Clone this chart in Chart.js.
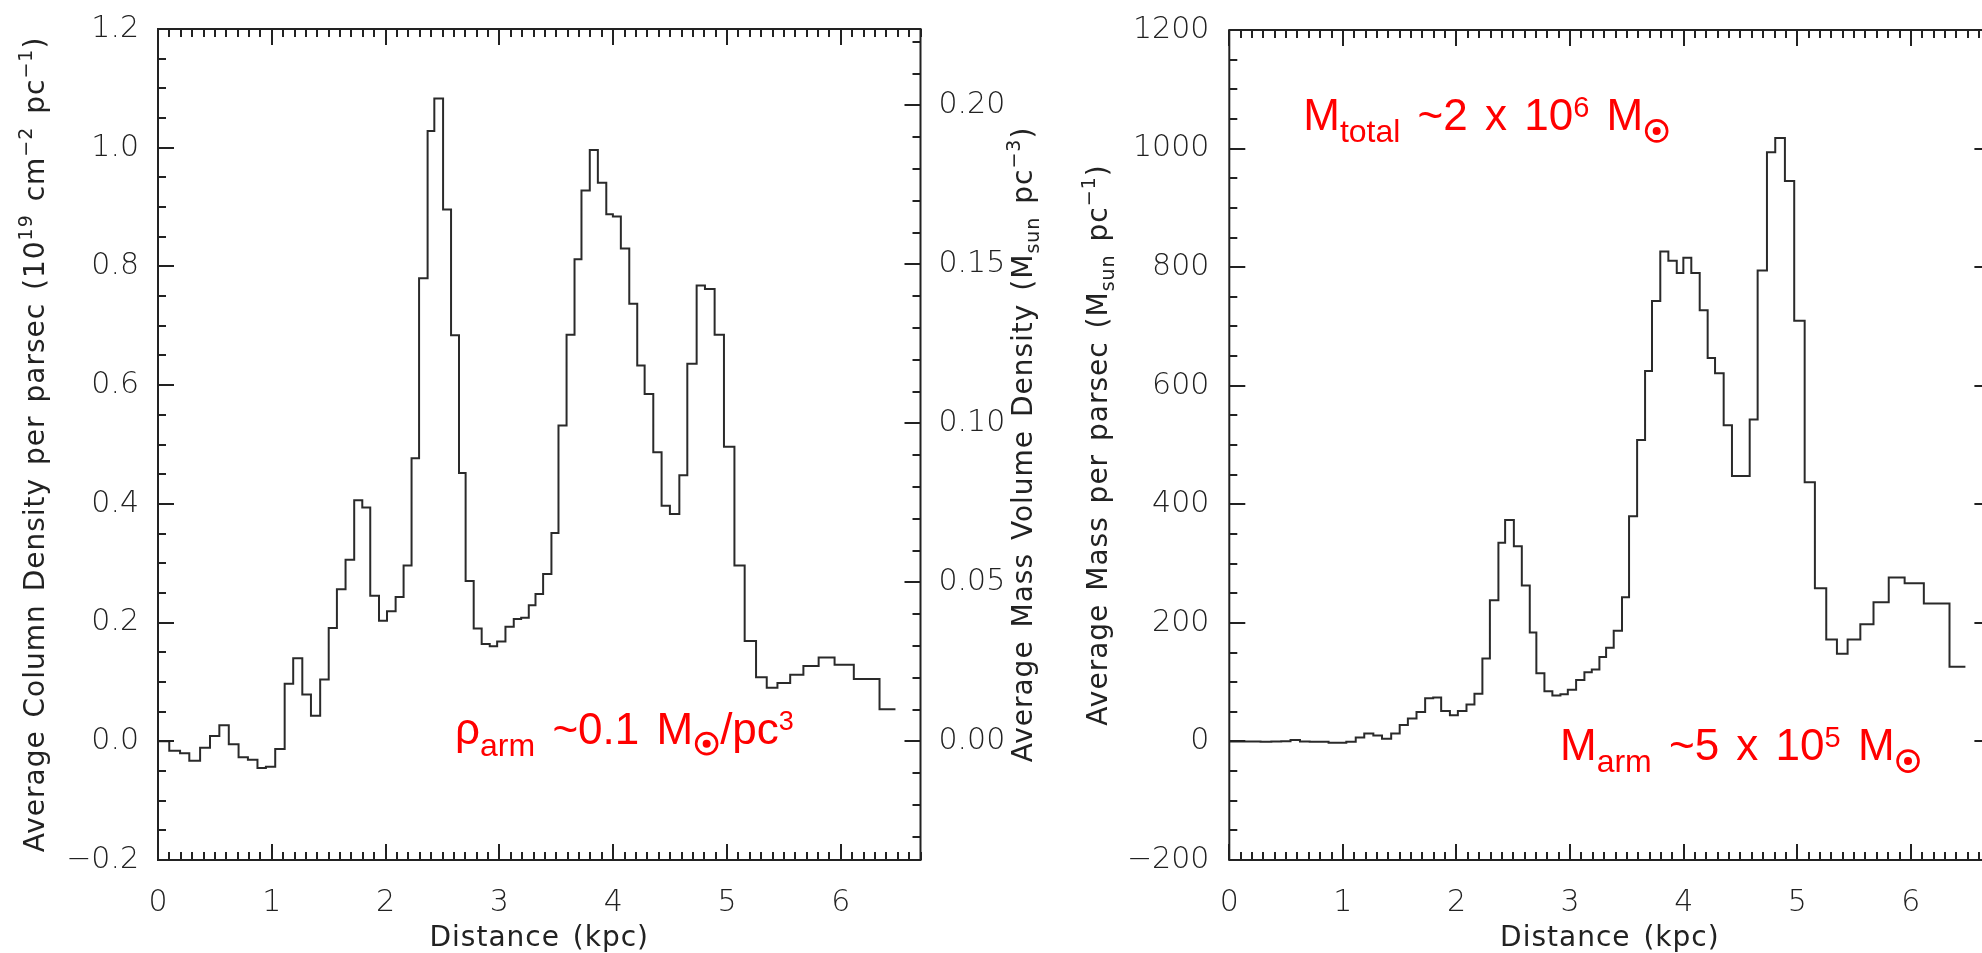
<!DOCTYPE html>
<html>
<head>
<meta charset="utf-8">
<title>Arm profiles</title>
<script src="https://cdn.jsdelivr.net/npm/chart.js@4.4.1/dist/chart.umd.min.js"></script>
<style>
  html, body { margin: 0; padding: 0; background: #fff; overflow: hidden; }
  body { width: 1982px; height: 953px; position: relative; }
  canvas { position: absolute; top: 0; }
  #leftChart { left: 0; }
  #rightChart { left: 1080px; }
</style>
</head>
<body>
<canvas id="leftChart" width="1080" height="953"></canvas>
<canvas id="rightChart" width="920" height="953"></canvas>
<script>
// distance bins (kpc), shared by both profiles
const binEdges = [
    0, 0.099, 0.194, 0.275, 0.370, 0.457, 0.539, 0.622, 0.708, 0.790,
    0.874, 0.948, 1.030, 1.113, 1.188, 1.268, 1.344, 1.425, 1.500, 1.572,
    1.648, 1.724, 1.795, 1.865, 1.942, 2.012, 2.088, 2.158, 2.228, 2.294,
    2.369, 2.428, 2.505, 2.575, 2.645, 2.703, 2.774, 2.844, 2.915, 2.980,
    3.053, 3.126, 3.191, 3.258, 3.317, 3.384, 3.457, 3.519, 3.590, 3.660,
    3.721, 3.794, 3.865, 3.939, 3.997, 4.067, 4.141, 4.211, 4.276, 4.352,
    4.425, 4.498, 4.581, 4.651, 4.733, 4.806, 4.891, 4.973, 5.065, 5.155,
    5.255, 5.349, 5.443, 5.555, 5.671, 5.805, 5.945, 6.114, 6.340, 6.480
];

// average column density per parsec (1e19 cm^-2 pc^-1), one value per bin
const columnDensity = [
    0.000, -0.016, -0.020, -0.033, -0.011, 0.009, 0.027, -0.005, -0.027, -0.031,
    -0.045, -0.043, -0.013, 0.097, 0.140, 0.079, 0.043, 0.104, 0.191, 0.256,
    0.306, 0.406, 0.394, 0.245, 0.203, 0.219, 0.243, 0.296, 0.477, 0.780,
    1.028, 1.083, 0.896, 0.684, 0.452, 0.270, 0.190, 0.164, 0.160, 0.168,
    0.193, 0.206, 0.208, 0.229, 0.248, 0.282, 0.351, 0.532, 0.685, 0.812,
    0.928, 0.996, 0.941, 0.888, 0.884, 0.830, 0.737, 0.633, 0.585, 0.487,
    0.397, 0.383, 0.448, 0.636, 0.768, 0.762, 0.685, 0.496, 0.296, 0.169,
    0.108, 0.090, 0.098, 0.112, 0.127, 0.141, 0.129, 0.105, 0.054
];

// average mass per parsec (Msun pc^-1), one value per bin
const massPerParsec = [
    0, -0.3, -0.3, -0.5, -0.3, 0.3, 2.2, -0.2, -0.5, -0.7,
    -2.2, -2.2, -0.5, 6.6, 13.3, 10.0, 4.4, 13.3, 27.6, 38.7,
    49.7, 72.9, 74.0, 51.4, 44.2, 51.4, 62.4, 80.6, 139.7, 238.0,
    335.0, 373.4, 329.2, 262.9, 183.9, 114.9, 84.5, 77.3, 79.5, 87.3,
    103.8, 116.5, 121.5, 142.5, 158.0, 186.7, 243.0, 380.0, 508.6, 625.0,
    742.8, 826.3, 810.8, 790.3, 815.7, 790.3, 727.3, 646.7, 621.2, 533.4,
    447.8, 447.8, 542.9, 794.2, 993.6, 1017.9, 945.4, 709.6, 437.0, 258.5,
    171.8, 148.0, 171.8, 197.7, 234.7, 276.7, 266.8, 232.5, 126.0
];

const distanceTicks = [0, 1, 2, 3, 4, 5, 6];
const distanceLabels = ['0', '1', '2', '3', '4', '5', '6'];
const densityTicks = [-0.2, 0, 0.2, 0.4, 0.6, 0.8, 1.0, 1.2];
const densityLabels = ['\u22120.2', '0.0', '0.2', '0.4', '0.6', '0.8', '1.0', '1.2'];
const volumeTicks = [0, 0.05, 0.10, 0.15, 0.20];
const volumeLabels = ['0.00', '0.05', '0.10', '0.15', '0.20'];
const massTicks = [-200, 0, 200, 400, 600, 800, 1000, 1200];
const massLabels = ['\u2212200', '0', '200', '400', '600', '800', '1000', '1200'];

const AXIS_FONT = 'DejaVu Sans';
const NOTE_FONT = 'Liberation Sans, Arial, sans-serif';
const INK = '#222';

function stepPoints(values) {
    const pts = values.map((v, i) => ({ x: binEdges[i], y: v }));
    pts.push({ x: binEdges[values.length], y: values[values.length - 1] });
    return pts;
}

function fixedTicks(values) {
    return scale => { scale.ticks = values.map(v => ({ value: v })); };
}

// box + inward major/minor ticks, IDL style
const framePlugin = {
    id: 'idlFrame',
    afterDatasetsDraw(chart, args, opts) {
        const ctx = chart.ctx, a = chart.chartArea;
        ctx.save();
        ctx.strokeStyle = INK;
        ctx.lineWidth = 2;
        ctx.strokeRect(a.left, a.top, a.right - a.left, a.bottom - a.top);
        opts.marks.forEach(m => {
            const scale = chart.scales[m.scale];
            const n0 = Math.ceil(scale.min / m.minor - 1e-6);
            const n1 = Math.floor(scale.max / m.minor + 1e-6);
            ctx.beginPath();
            for (let k = n0; k <= n1; k++) {
                const v = k * m.minor;
                const r = v / m.major;
                const len = Math.abs(r - Math.round(r)) < 1e-6 ? 16 : 8;
                const p = Math.round(scale.getPixelForValue(v));
                m.sides.forEach(side => {
                    if (side === 'bottom') { ctx.moveTo(p, a.bottom); ctx.lineTo(p, a.bottom - len); }
                    if (side === 'top') { ctx.moveTo(p, a.top); ctx.lineTo(p, a.top + len); }
                    if (side === 'left') { ctx.moveTo(a.left, p); ctx.lineTo(a.left + len, p); }
                    if (side === 'right') { ctx.moveTo(a.right, p); ctx.lineTo(a.right - len, p); }
                });
            }
            ctx.stroke();
        });
        ctx.restore();
    }
};

// text with sub/superscripts and the solar symbol; extra = added width per space
function segWidth(ctx, s, family, extra) {
    if (s.sun) return 2 * s.sun + 6;
    ctx.font = `${s.w || 'normal'} ${s.s}px ${family}`;
    const spaces = (s.t.match(/ /g) || []).length;
    return ctx.measureText(s.t).width + spaces * extra;
}

function drawSegs(ctx, segs, family, x0, extra) {
    let x = x0;
    segs.forEach(s => {
        const w = segWidth(ctx, s, family, extra);
        if (s.sun) {
            ctx.beginPath();
            ctx.lineWidth = 2.6;
            ctx.arc(x + s.sun + 3, s.dy || 0, s.sun, 0, Math.PI * 2);
            ctx.stroke();
            ctx.beginPath();
            ctx.arc(x + s.sun + 3, s.dy || 0, 4, 0, Math.PI * 2);
            ctx.fill();
        } else if (extra) {
            let cx = x;
            s.t.split(' ').forEach((word, i) => {
                if (i > 0) cx += ctx.measureText(' ').width + extra;
                ctx.fillText(word, cx, s.dy || 0);
                cx += ctx.measureText(word).width;
            });
        } else {
            ctx.fillText(s.t, x, s.dy || 0);
        }
        x += w;
    });
    return x - x0;
}

const textPlugin = {
    id: 'richText',
    afterDraw(chart, args, opts) {
        const ctx = chart.ctx, a = chart.chartArea;
        ctx.save();
        ctx.textBaseline = 'alphabetic';
        ctx.textAlign = 'left';
        if ('letterSpacing' in ctx) ctx.letterSpacing = '1px';
        (opts.titles || []).forEach(t => {
            ctx.fillStyle = INK;
            const total = t.segs.reduce((acc, s) => acc + segWidth(ctx, s, AXIS_FONT, 3), 0);
            ctx.save();
            if (t.vertical) {
                const bx = t.side === 'left' ? a.left - t.offset : a.right + t.offset;
                ctx.translate(bx, (a.top + a.bottom) / 2);
                ctx.rotate(-Math.PI / 2);
            } else {
                ctx.translate((a.left + a.right) / 2, a.bottom + t.offset);
            }
            drawSegs(ctx, t.segs, AXIS_FONT, -total / 2, 3);
            ctx.restore();
        });
        if ('letterSpacing' in ctx) ctx.letterSpacing = '0px';
        (opts.notes || []).forEach(n => {
            ctx.fillStyle = '#ff0000';
            ctx.strokeStyle = '#ff0000';
            ctx.save();
            ctx.translate(chart.scales.x.getPixelForValue(n.x), chart.scales[n.yScale].getPixelForValue(n.y));
            drawSegs(ctx, n.segs, NOTE_FONT, 0, 5);
            ctx.restore();
        });
        ctx.restore();
    }
};

const tickFont = { family: AXIS_FONT, size: 30, weight: '200' };
const supT = (t) => ({ t: t, s: 19, dy: -12 });
const subT = (t) => ({ t: t, s: 19, dy: 7 });
const main = (t) => ({ t: t, s: 28 });

function xScale() {
    return {
        type: 'linear', min: 0, max: 6.7,
        afterBuildTicks: fixedTicks(distanceTicks),
        afterFit: s => { s.height = 93; },
        grid: { display: false }, border: { display: false },
        ticks: { font: tickFont, color: INK, padding: 17, maxRotation: 0,
                 callback: (v, i) => distanceLabels[i] }
    };
}

function histogram(values) {
    return {
        data: stepPoints(values),
        stepped: 'before',
        borderColor: '#2a2a2a',
        borderWidth: 2,
        pointRadius: 0,
        fill: false
    };
}

new Chart(document.getElementById('leftChart'), {
    type: 'line',
    data: { datasets: [histogram(columnDensity)] },
    options: {
        responsive: false,
        animation: false,
        events: [],
        layout: { padding: { top: 15 } },
        scales: {
            x: xScale(),
            y: {
                type: 'linear', position: 'left', min: -0.2, max: 1.2,
                afterBuildTicks: fixedTicks(densityTicks),
                afterFit: s => { s.width = 158; },
                grid: { display: false }, border: { display: false },
                ticks: { font: tickFont, color: INK, padding: 11, callback: (v, i) => densityLabels[i] }
            },
            y2: {
                type: 'linear', position: 'right', min: -0.0373, max: 0.2240,
                afterBuildTicks: fixedTicks(volumeTicks),
                afterFit: s => { s.width = 159.5; },
                grid: { display: false }, border: { display: false },
                ticks: { font: tickFont, color: INK, padding: 10, callback: (v, i) => volumeLabels[i] }
            }
        },
        plugins: {
            legend: { display: false },
            tooltip: { enabled: false },
            idlFrame: {
                marks: [
                    { scale: 'x', minor: 0.1, major: 1, sides: ['bottom', 'top'] },
                    { scale: 'y', minor: 0.05, major: 0.2, sides: ['left'] },
                    { scale: 'y2', minor: 0.01, major: 0.05, sides: ['right'] }
                ]
            },
            richText: {
                titles: [
                    { vertical: true, side: 'left', offset: 114.5,
                      segs: [main('Average Column Density per parsec (10'), supT('19'), main(' cm'),
                             supT('\u22122'), main(' pc'), supT('\u22121'), main(')')] },
                    { vertical: true, side: 'right', offset: 111.5,
                      segs: [main('Average Mass Volume Density (M'), subT('sun'), main(' pc'),
                             supT('\u22123'), main(')')] },
                    { vertical: false, offset: 86, segs: [main('Distance (kpc)')] }
                ],
                notes: [
                    { x: 2.61, y: -0.004, yScale: 'y',
                      segs: [{ t: '\u03c1', s: 44 }, { t: 'arm', s: 32, dy: 12 }, { t: ' ~0.1 M', s: 44 },
                             { sun: 10.5, dy: 0 }, { t: '/pc', s: 44 }, { t: '3', s: 27, dy: -14 }] }
                ]
            }
        }
    },
    plugins: [framePlugin, textPlugin]
});

new Chart(document.getElementById('rightChart'), {
    type: 'line',
    data: { datasets: [histogram(massPerParsec)] },
    options: {
        responsive: false,
        animation: false,
        events: [],
        layout: { padding: { top: 15, right: 9.6 } },
        scales: {
            x: xScale(),
            y: {
                type: 'linear', position: 'left', min: -200, max: 1200,
                afterBuildTicks: fixedTicks(massTicks),
                afterFit: s => { s.width = 149.3; },
                grid: { display: false }, border: { display: false },
                ticks: { font: tickFont, color: INK, padding: 12, callback: (v, i) => massLabels[i] }
            }
        },
        plugins: {
            legend: { display: false },
            tooltip: { enabled: false },
            idlFrame: {
                marks: [
                    { scale: 'x', minor: 0.1, major: 1, sides: ['bottom', 'top'] },
                    { scale: 'y', minor: 50, major: 200, sides: ['left', 'right'] }
                ]
            },
            richText: {
                titles: [
                    { vertical: true, side: 'left', offset: 122.6,
                      segs: [main('Average Mass per parsec (M'), subT('sun'), main(' pc'),
                             supT('\u22121'), main(')')] },
                    { vertical: false, offset: 86, segs: [main('Distance (kpc)')] }
                ],
                notes: [
                    { x: 0.651, y: 1031.5, yScale: 'y',
                      segs: [{ t: 'M', s: 44 }, { t: 'total', s: 32, dy: 12 }, { t: ' ~2 x 10', s: 44 },
                             { t: '6', s: 29, dy: -13 }, { t: ' M', s: 44 }, { sun: 10.5, dy: 1 }] },
                    { x: 2.911, y: -31.5, yScale: 'y',
                      segs: [{ t: 'M', s: 44 }, { t: 'arm', s: 32, dy: 12 }, { t: ' ~5 x 10', s: 44 },
                             { t: '5', s: 29, dy: -13 }, { t: ' M', s: 44 }, { sun: 10.5, dy: 1 }] }
                ]
            }
        }
    },
    plugins: [framePlugin, textPlugin]
});
</script>
</body>
</html>
